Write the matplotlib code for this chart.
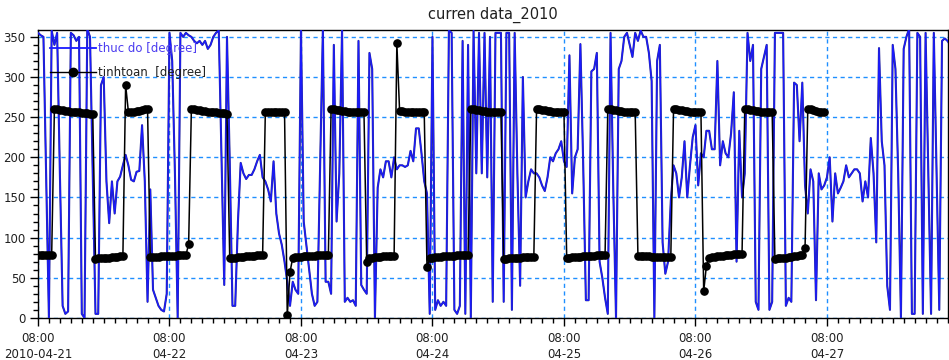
import matplotlib
matplotlib.use("Agg")
import matplotlib.pyplot as plt
import matplotlib.dates as mdates
import matplotlib.patheffects as pe
from matplotlib.lines import Line2D
from matplotlib.ticker import MultipleLocator, FuncFormatter
import numpy as np
import pandas as pd

# half-hourly samples starting 2010-04-21 08:00
start = "2010-04-21 08:00"

thuc_do = [
    355, 352, 350, 175, 0, 358, 340, 355, 180, 15,
    5, 8, 355, 352, 345, 350, 5, 0, 360, 350,
    175, 5, 5, 290, 300, 170, 118, 170, 130, 170,
    176, 190, 203, 190, 172, 170, 182, 183, 240, 170,
    20, 160, 35, 25, 15, 10, 8, 30, 355, 320,
    180, 0, 355, 350, 355, 352, 350,
    345, 342, 345, 340, 345, 335, 340, 350, 355, 358,
    200, 41, 350, 195, 15, 15, 120, 193, 180, 173,
    178, 178, 185, 195, 203, 175, 170, 160, 145, 195,
    130, 105, 91, 70, 45, 15, 45, 35, 30, 360,
    120, 90, 60, 30, 15, 20, 190, 360, 45, 45,
    30, 340, 120, 180,
    360, 20, 25, 20, 22, 15, 345, 41, 35, 30,
    330, 310, 0, 162, 185, 175, 195, 195, 175, 200,
    185, 190, 190, 188, 190, 208, 195, 236, 236, 205,
    170, 155, 5, 350, 10, 22, 15, 20, 15, 358,
    355, 10, 5, 15, 345, 5, 340, 0, 358, 180,
    355, 180, 355, 175, 350,
    20, 355, 355, 355, 20, 355, 355, 10, 355, 180,
    40, 300, 150, 170, 185, 180, 180, 175, 165, 158,
    175, 200, 195, 205, 210, 220, 195, 188, 327, 155,
    200, 210, 341, 195, 22, 22, 307, 310, 330, 70,
    50, 25, 5, 355, 160, 0, 310, 320, 350, 355,
    340, 325, 355, 345,
    358, 350, 350, 330, 295, 0, 320, 340, 94, 55,
    70, 146, 190, 180, 150, 175, 220, 150, 190, 225,
    240, 165, 205, 200, 233, 233, 210, 210, 320, 190,
    220, 205, 200, 230, 281, 70, 233, 150, 180, 355,
    320, 340, 20, 10, 310, 325, 340, 10, 20, 355,
    355, 355, 355, 15, 25,
    20, 293, 290, 220, 293, 165, 130, 185, 170, 22,
    180, 160, 165, 175, 200, 120, 180, 155, 162, 170,
    190, 175, 180, 185, 185, 180, 145, 170, 150, 224,
    180, 94, 336, 220, 190, 40, 10, 340, 310, 180,
    0, 335, 350, 360, 5, 5, 355, 350, 5, 355,
    180, 5, 355, 180, 10, 345, 348, 345, 340,
]

tinhtoan = [
    78, 78, 78, 78, 78, 78,
    260, 260, 259, 259, 258, 258, 257, 257, 256, 256, 255, 255, 255, 254, 254,
    73, 74, 74, 75, 75, 75, 76, 76, 76, 77, 77,
    290,
    257, 257, 257, 258, 258, 259, 260, 260,
    76, 76, 76, 76, 77, 77, 77, 77, 77, 77, 78, 78, 78, 78,
    92,
    260, 260, 259, 259, 258, 258, 257, 257, 256, 256, 255, 255, 255, 254,
    74, 75, 75, 76, 76, 76, 77, 77, 77, 77, 78, 78, 78,
    257, 257, 257, 257, 257, 257, 257, 257,
    3, 57,
    75, 76, 76, 76, 77, 77, 77, 77, 77, 78, 78, 78, 78, 78,
    260, 260, 259, 259, 258, 258, 257, 257, 257, 256, 256, 256, 256,
    70,
    75, 75, 76, 76, 76, 77, 77, 77, 77, 77,
    342,
    258, 258, 257, 257, 257, 257, 256, 256, 256, 256,
    63,
    75, 75, 76, 76, 76, 77, 77, 77, 77, 77, 78, 78, 78, 78, 78,
    260, 260, 259, 259, 258, 258, 257, 257, 257, 256, 256, 256,
    73, 73, 74, 74, 75, 75, 75, 76, 76, 76, 76, 76,
    260, 260, 259, 259, 258, 258, 257, 257, 256, 256, 256,
    75, 75, 76, 76, 76, 76, 77, 77, 77, 77, 77, 78, 78, 78, 78,
    260, 260, 259, 259, 258, 258, 257, 257, 257, 256, 256,
    77, 77, 77, 77, 77, 76, 76, 76, 76, 76, 76, 76, 76,
    260, 260, 259, 259, 258, 258, 257, 257, 257, 256, 256,
    33, 65,
    75, 76, 76, 77, 77, 77, 78, 78, 78, 79, 79, 80, 80,
    260, 260, 259, 259, 258, 258, 257, 257, 257, 256, 256,
    73, 74, 74, 75, 75, 76, 76, 77, 77, 78, 78,
    87,
    260, 260, 259, 258, 257, 257, 256,
]

t_blue = pd.date_range(start, periods=len(thuc_do), freq="30min")
t_black = pd.date_range(start, periods=len(tinhtoan), freq="30min")

text_col = "#202020"
grid_col = "#1f8fff"

fig = plt.figure(figsize=(9.49, 3.60), dpi=100)
ax = fig.add_axes([0.040, 0.117, 0.959, 0.800])

ax.plot(t_blue, thuc_do, color="#1a1aff", lw=0.9, zorder=3,
        path_effects=[pe.Stroke(linewidth=1.5, foreground="#2a2a95"), pe.Normal()])
ax.plot(t_black, tinhtoan, color="black", lw=1.1, marker="o", ms=5.2,
        zorder=4)

t0 = pd.Timestamp(start)
ax.set_xlim(t0, t0 + pd.Timedelta(hours=166.1))
ax.set_ylim(0, 358.7)

# --- ticks ---
def fmt_date(x, pos):
    d = mdates.num2date(x)
    if pos == 0:
        return d.strftime("%H:%M\n%Y-%m-%d")
    return d.strftime("%H:%M\n%m-%d")

ax.xaxis.set_major_locator(mdates.HourLocator(byhour=[8]))
ax.xaxis.set_minor_locator(mdates.HourLocator(byhour=range(0, 24, 2)))
ax.xaxis.set_major_formatter(FuncFormatter(fmt_date))
ax.yaxis.set_major_locator(MultipleLocator(50))
ax.yaxis.set_minor_locator(MultipleLocator(10))

ax.tick_params(which="major", direction="out", length=6, width=1,
               labelsize=8.5, labelcolor=text_col, pad=3)
ax.tick_params(which="minor", direction="out", length=3.5, width=1)
ax.tick_params(axis="x", pad=4)
for lab in ax.get_xticklabels():
    lab.set_linespacing(1.3)

ax.grid(True, which="major", color=grid_col, ls=(0, (3, 2.5)), lw=1.0, zorder=1)

for s in ax.spines.values():
    s.set_color("black")
    s.set_linewidth(1.0)

ax.set_title("curren data_2010", fontsize=10.5, color=text_col, pad=8)

# --- legend ---
handles = [
    Line2D([], [], color="#1a1aff", lw=1.3),
    Line2D([], [], color="black", lw=1.0, marker="o", ms=6),
]
leg = ax.legend(handles, ["thuc do [degree]", "tinhtoan  [degree]"],
                loc="upper left", bbox_to_anchor=(0.0, 1.0), frameon=False,
                fontsize=8.5, handlelength=3.9, handletextpad=0.2,
                labelspacing=1.0, borderaxespad=0.6)
leg.get_texts()[0].set_color("#4b3cf0")
leg.get_texts()[1].set_color(text_col)
leg.set_zorder(6)

plt.savefig("out.png", dpi=100)
